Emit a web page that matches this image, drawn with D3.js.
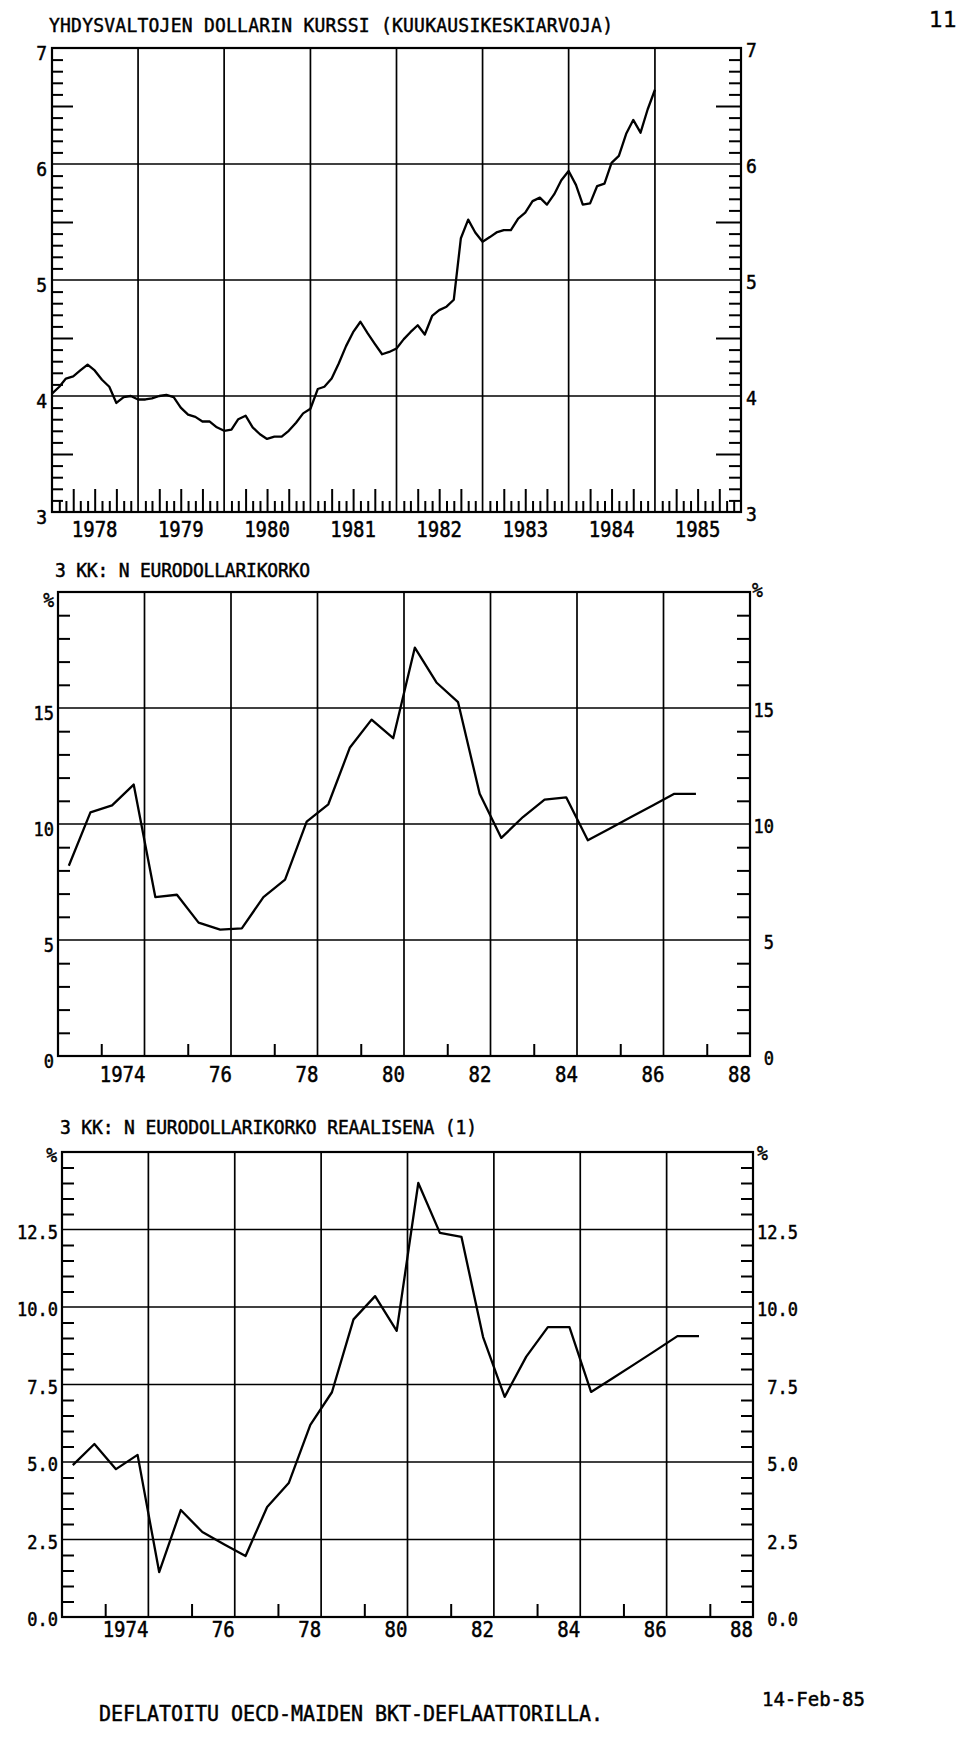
<!DOCTYPE html>
<html><head><meta charset="utf-8">
<script src="https://cdn.jsdelivr.net/npm/d3@7"></script>
<style>
body{margin:0;background:#fff}
svg text{font-family:"DejaVu Sans Mono",monospace;fill:#000;stroke:#000;stroke-width:0.45px}
</style></head><body>
<svg id="c" width="960" height="1759"></svg>
<script>
// ---------- DATA ----------
const title1 = "YHDYSVALTOJEN DOLLARIN KURSSI (KUUKAUSIKESKIARVOJA)";
const title2 = "3 KK: N EURODOLLARIKORKO";
const title3 = "3 KK: N EURODOLLARIKORKO REAALISENA (1)";
const footnote = "DEFLATOITU OECD-MAIDEN BKT-DEFLAATTORILLA.";
const dateStamp = "14-Feb-85";
const pageNo = "11";

// monthly USD rate (FIM per USD), Jan 1978 .. Jan 1985
const usdMonths = d3.timeMonth.range(new Date(1978,0,1), new Date(1985,1,1));
const usdRate = [
 4.02,4.08,4.15,4.17,4.22,4.27,4.22,4.14,4.08,3.94,3.99,4.00,
 3.97,3.97,3.98,4.00,4.01,3.99,3.90,3.84,3.82,3.78,3.78,3.73,
 3.70,3.71,3.80,3.83,3.73,3.67,3.63,3.65,3.65,3.70,3.77,3.85,
 3.89,4.06,4.08,4.15,4.28,4.43,4.55,4.64,4.54,4.45,4.36,4.38,
 4.41,4.49,4.55,4.61,4.53,4.69,4.74,4.77,4.83,5.36,5.52,5.41,
 5.33,5.37,5.41,5.43,5.43,5.53,5.58,5.68,5.71,5.65,5.74,5.86,
 5.94,5.82,5.65,5.66,5.81,5.83,6.01,6.07,6.26,6.38,6.27,6.47,
 6.64];
const usdYearLabels = ["1978","1979","1980","1981","1982","1983","1984","1985"];
const usdYTickLabels = ["3","4","5","6","7"];

// half-year periods 1972 H1 .. 1986 H2
const halfYears = d3.range(1972, 1987).flatMap(y => [y + "/1", y + "/2"]);
const euroRate = [
 8.2,10.5,10.8,11.7,6.85,6.95,5.75,5.45,5.5,6.85,
 7.6,10.1,10.85,13.3,14.5,13.7,17.6,16.1,15.25,11.3,
 9.4,10.3,11.05,11.15,9.3,9.8,10.3,10.8,11.3,11.3];
const realRate = [
 4.9,5.58,4.77,5.23,1.45,3.45,2.74,2.35,1.97,3.55,
 4.32,6.2,7.25,9.6,10.35,9.23,14.0,12.39,12.26,9.03,
 7.1,8.4,9.35,9.35,7.26,7.7,8.15,8.6,9.06,9.06];
const yearLabels = ["1974","76","78","80","82","84","86","88"];
const euroYTickLabels = ["0","5","10","15"];
const realYTickLabels = ["0.0","2.5","5.0","7.5","10.0","12.5"];

// ---------- DRAW ----------
const svg = d3.select("#c");
const BLACK = "#000";
const halfPos = p => +p.slice(0,4) + (p.endsWith("/1") ? 0.25 : 0.75);

function ticks(g, axisFn, scale, tx, ty, values, size, sw) {
  const a = g.append("g").attr("transform", `translate(${tx},${ty})`)
    .call(axisFn(scale).tickValues(values).tickSize(size).tickFormat(""));
  a.select(".domain").remove();
  a.selectAll("line").attr("stroke", BLACK).attr("stroke-width", sw || 2);
}
function grid(g, x, y, xs, ys) {
  const [xa, xb] = x.range(), [ya, yb] = y.range();
  g.selectAll(null).data(xs).enter().append("line")
    .attr("x1", d => x(d)).attr("x2", d => x(d)).attr("y1", ya).attr("y2", yb)
    .attr("stroke", BLACK).attr("stroke-width", 1.7);
  g.selectAll(null).data(ys).enter().append("line")
    .attr("x1", xa).attr("x2", xb).attr("y1", d => y(d)).attr("y2", d => y(d))
    .attr("stroke", BLACK).attr("stroke-width", 1.7);
  g.append("rect").attr("x", xa).attr("y", yb).attr("width", xb - xa).attr("height", ya - yb)
    .attr("fill", "none").attr("stroke", BLACK).attr("stroke-width", 2.2);
}
function txt(x, y, s, anchor, size, sy, len) {
  const t = svg.append("text")
    .attr("transform", `translate(${x},${y}) scale(1,${sy || 1.1})`)
    .attr("text-anchor", anchor || "start")
    .attr("font-size", size || 18).text(s);
  if (len) t.attr("textLength", len).attr("lengthAdjust", "spacing");
  return t;
}

// ===== Chart 1 =====
{
  const g = svg.append("g");
  const x = d3.scaleTime().domain([new Date(1978,0,1), new Date(1986,0,1)]).range([52, 741]);
  const y = d3.scaleLinear().domain([3, 7]).range([512, 48]);
  txt(49, 32, title1, "start", 18, 1.1, 564);
  grid(g, x, y, d3.timeYear.range(new Date(1979,0,1), new Date(1986,0,1)), [4,5,6]);
  const tenths = d3.range(31, 70).filter(v => v % 10 !== 0).map(v => v / 10);
  const small = tenths.filter(v => Math.round(v*10) % 5 !== 0);
  const half = tenths.filter(v => Math.round(v*10) % 5 === 0);
  ticks(g, d3.axisRight, y, 52, 0, small, 11);
  ticks(g, d3.axisRight, y, 52, 0, half, 21);
  ticks(g, d3.axisLeft, y, 741, 0, small, 12);
  ticks(g, d3.axisLeft, y, 741, 0, half, 25);
  const months = d3.timeMonth.range(new Date(1978,0,1), new Date(1986,0,1)).filter(d => d.getMonth() !== 0);
  ticks(g, d3.axisTop, x, 0, 512, months.filter(d => d.getMonth() % 3 !== 0), 11);
  ticks(g, d3.axisTop, x, 0, 512, months.filter(d => d.getMonth() % 3 === 0), 23);
  g.append("path").datum(usdRate).attr("fill", "none").attr("stroke", BLACK)
    .attr("stroke-width", 2.3).attr("stroke-linejoin", "round")
    .attr("d", d3.line().x((d, i) => x(usdMonths[i])).y(d => y(d)));
  usdYearLabels.forEach(l => txt(x(new Date(+l, 6, 1)), 537, l, "middle", 19, 1.15));
  usdYTickLabels.forEach(l => {
    txt(47, y(+l) + 12, l, "end", 18);
    txt(746, y(+l) + 9, l, "start", 18);
  });
}

// ===== Chart 2 =====
{
  const g = svg.append("g");
  const x = d3.scaleLinear().domain([1972, 1988]).range([58, 750]);
  const y = d3.scaleLinear().domain([0, 20]).range([1056, 592]);
  txt(55, 577, title2, "start", 18, 1.1, 255);
  grid(g, x, y, [1974,1976,1978,1980,1982,1984,1986], [5,10,15]);
  const minor = d3.range(1, 20).filter(v => v % 5 !== 0);
  ticks(g, d3.axisRight, y, 58, 0, minor, 12);
  ticks(g, d3.axisLeft, y, 750, 0, minor, 13);
  ticks(g, d3.axisTop, x, 0, 1056, [1973,1975,1977,1979,1981,1983,1985,1987], 12);
  g.append("path").datum(euroRate).attr("fill", "none").attr("stroke", BLACK)
    .attr("stroke-width", 2.3).attr("stroke-linejoin", "round")
    .attr("d", d3.line().x((d, i) => x(halfPos(halfYears[i]))).y(d => y(d)));
  yearLabels.forEach((l, i) => txt(x(1974 + 2*i) + 1, 1082, l, "end", 19, 1.15));
  euroYTickLabels.forEach(l => {
    txt(54, y(+l) + 12, l, "end", 17);
    txt(774, y(+l) + 9, l, "end", 17);
  });
  txt(54, 607, "%", "end", 18);
  txt(752, 597, "%", "start", 18);
}

// ===== Chart 3 =====
{
  const g = svg.append("g");
  const x = d3.scaleLinear().domain([1972, 1988]).range([62, 753]);
  const y = d3.scaleLinear().domain([0, 15]).range([1617, 1152]);
  txt(60, 1134, title3, "start", 18, 1.1, 417);
  grid(g, x, y, [1974,1976,1978,1980,1982,1984,1986], [2.5,5,7.5,10,12.5]);
  const minor = d3.range(1, 30).filter(v => v % 5 !== 0).map(v => v / 2);
  ticks(g, d3.axisRight, y, 62, 0, minor, 12);
  ticks(g, d3.axisLeft, y, 753, 0, minor, 12);
  ticks(g, d3.axisTop, x, 0, 1617, [1973,1975,1977,1979,1981,1983,1985,1987], 13);
  g.append("path").datum(realRate).attr("fill", "none").attr("stroke", BLACK)
    .attr("stroke-width", 2.3).attr("stroke-linejoin", "round")
    .attr("d", d3.line().x((d, i) => x(halfPos(halfYears[i]))).y(d => y(d)));
  yearLabels.forEach((l, i) => txt(x(1974 + 2*i), 1637, l, "end", 19, 1.15));
  realYTickLabels.forEach(l => {
    txt(58, y(+l) + 9, l, "end", 17);
    txt(798, y(+l) + 9, l, "end", 17);
  });
  txt(57, 1162, "%", "end", 18);
  txt(757, 1160, "%", "start", 18);
}

// ===== Footer =====
txt(99, 1721, footnote, "start", 20, 1.05, 504);
txt(762, 1706, dateStamp, "start", 19, 1.05);
svg.append("text").attr("x", 929).attr("y", 27).attr("font-size", 22)
  .style("font-family", "'DejaVu Sans',sans-serif").style("stroke-width", "0.3px").text(pageNo);
</script>
</body></html>
